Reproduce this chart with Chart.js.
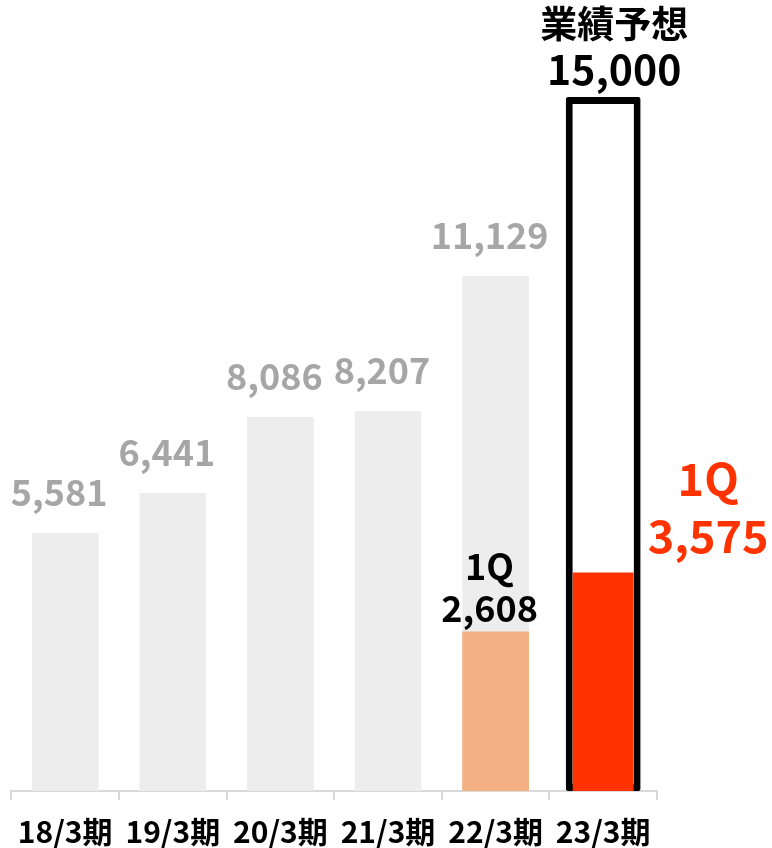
<!DOCTYPE html>
<html>
<head>
<meta charset="utf-8">
<script src="https://cdn.jsdelivr.net/npm/chart.js@4/dist/chart.umd.min.js"></script>
<style>
  html, body { margin: 0; padding: 0; background: #fff; }
  #wrap { width: 772px; height: 848px; }
</style>
</head>
<body>
<div id="wrap"><canvas id="chart" width="772" height="848"></canvas></div>
<script>
// data
var categories = ['18/3期', '19/3期', '20/3期', '21/3期', '22/3期', '23/3期'];
var annual = [5581, 6441, 8086, 8207, 11129, null];
var forecast = [null, null, null, null, null, 15000];
var q1Prev = [null, null, null, null, 2608, null];
var q1Curr = [null, null, null, null, null, 3575];

var FONT = '"Noto Sans CJK JP", "Noto Sans", sans-serif';

function fmt(v) {
    return v.toLocaleString('en-US');
}

// value labels drawn on top of bars
var labelPlugin = {
    id: 'labels',
    afterDatasetsDraw: function (chart) {
        var ctx = chart.ctx;
        var x = chart.scales.x;
        var y = chart.scales.y;
        var y2 = chart.scales.y2;
        ctx.save();
        ctx.textAlign = 'center';
        ctx.textBaseline = 'alphabetic';

        // annual results, gray
        ctx.fillStyle = '#A6A6A6';
        ctx.font = 'bold 36px ' + FONT;
        annual.forEach(function (v, i) {
            if (v == null) return;
            ctx.fillText(fmt(v), x.getPixelForValue(i) - 6, y.getPixelForValue(v) - 27);
        });

        // forecast
        forecast.forEach(function (v, i) {
            if (v == null) return;
            var cx = x.getPixelForValue(i) + 11;
            var top = y.getPixelForValue(v);
            ctx.fillStyle = '#000';
            ctx.font = 'bold 37px ' + FONT;
            ctx.fillText('業績予想', cx, top - 59);
            ctx.font = 'bold 41px ' + FONT;
            ctx.fillText(fmt(v), cx, top - 12);
        });

        // 1Q previous year
        q1Prev.forEach(function (v, i) {
            if (v == null) return;
            var cx = x.getPixelForValue(i) - 6;
            var top = y2.getPixelForValue(v);
            ctx.fillStyle = '#000';
            ctx.font = 'bold 36px ' + FONT;
            ctx.fillText('1Q', cx, top - 52);
            ctx.fillText(fmt(v), cx, top - 10);
        });

        // 1Q current year, right of the bar
        q1Curr.forEach(function (v, i) {
            if (v == null) return;
            var cx = x.getPixelForValue(i) + 105;
            var top = y2.getPixelForValue(v);
            ctx.fillStyle = '#FF3300';
            ctx.font = 'bold 45px ' + FONT;
            ctx.fillText('1Q', cx, top - 76);
            ctx.fillText(fmt(v), cx, top - 19);
        });
        ctx.restore();
    }
};

var ctx = document.getElementById('chart').getContext('2d');
var chart = new Chart(ctx, {
    type: 'bar',
    data: {
        labels: categories,
        datasets: [{
            label: '通期実績',
            data: annual,
            backgroundColor: '#EDEDED',
            barPercentage: 0.62,
            categoryPercentage: 1,
            grouped: false,
            order: 4,
            yAxisID: 'y'
        }, {
            label: '業績予想',
            data: forecast,
            backgroundColor: '#FFFFFF',
            borderColor: '#000000',
            borderWidth: 7,
            borderSkipped: false,
            borderRadius: 2,
            barPercentage: 0.696,
            categoryPercentage: 1,
            grouped: false,
            order: 3,
            yAxisID: 'y'
        }, {
            label: '1Q (22/3期)',
            data: q1Prev,
            backgroundColor: '#F4B183',
            barPercentage: 0.62,
            categoryPercentage: 1,
            grouped: false,
            order: 2,
            yAxisID: 'y2'
        }, {
            label: '1Q (23/3期)',
            data: q1Curr,
            backgroundColor: '#FF3300',
            barPercentage: 0.566,
            categoryPercentage: 1,
            grouped: false,
            order: 1,
            yAxisID: 'y2'
        }]
    },
    options: {
        responsive: false,
        animation: false,
        layout: { padding: { top: 97, left: 10, right: 115, bottom: 0 } },
        plugins: {
            legend: { display: false },
            tooltip: { enabled: false }
        },
        scales: {
            x: {
                offset: true,
                afterFit: function (scale) {
                    // keep the baseline where the original has it
                    scale.height = 57;
                },
                grid: {
                    display: true,
                    offset: true,
                    drawOnChartArea: false,
                    drawTicks: true,
                    tickLength: 9,
                    color: '#D9D9D9',
                    lineWidth: 2
                },
                border: { display: true, color: '#D9D9D9', width: 2 },
                ticks: {
                    color: '#000',
                    font: { family: FONT, size: 30, weight: 'bold', lineHeight: 1 },
                    padding: 17,
                    maxRotation: 0,
                    autoSkip: false
                }
            },
            y: {
                display: false,
                min: 0,
                max: 15000
            },
            y2: {
                display: false,
                min: 0,
                max: 11350
            }
        }
    },
    plugins: [labelPlugin]
});
</script>
</body>
</html>
